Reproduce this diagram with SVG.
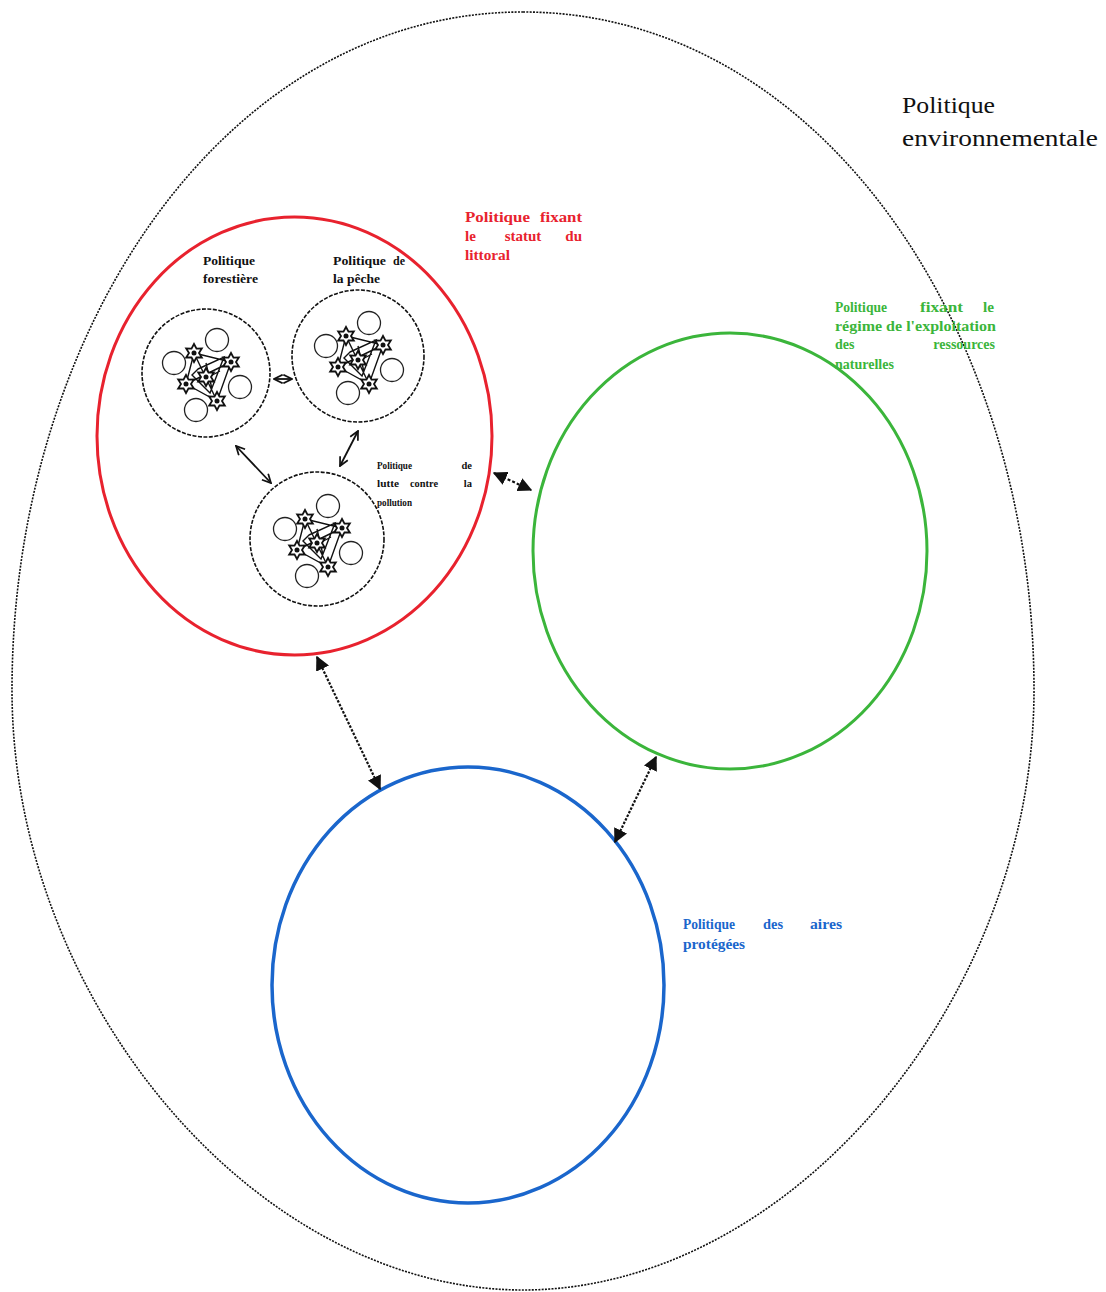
<svg xmlns="http://www.w3.org/2000/svg" width="1106" height="1292" viewBox="0 0 1106 1292">
<style>
.outer{fill:none;stroke:#111;stroke-width:1.6;stroke-dasharray:2 1.3}
.small{fill:#fff;stroke:#111;stroke-width:1.6;stroke-dasharray:4 1.5}
.dot{fill:#fff;stroke:#222;stroke-width:1.3}
.star{fill:#fff;stroke:#111;stroke-width:1.8}
.tangle{fill:none;stroke:#111;stroke-width:1.4}
.lbl{font-family:"Liberation Serif",serif;font-weight:bold}
.big{font-family:"Liberation Serif",serif;font-size:24px;fill:#111}
.sm{font-size:12px;fill:#111}
.xs{font-size:10.5px;fill:#111}
.red{font-size:15px;fill:#e8222e}
.grn{font-size:14px;fill:#3bb53b}
.blu{font-size:14px;fill:#1a66cc}
.conn{fill:none;stroke:#111}
</style>
<defs>
<marker id="ah" viewBox="0 0 10 10" refX="9" refY="5" markerWidth="6.5" markerHeight="6.5" orient="auto-start-reverse" markerUnits="strokeWidth">
<path d="M0 0 L10 5 L0 10 Z" fill="#111"/>
</marker>
<marker id="av" viewBox="0 0 10 10" refX="9" refY="5" markerWidth="6" markerHeight="6" orient="auto-start-reverse" markerUnits="strokeWidth">
<path d="M1 1 L9 5 L1 9" fill="none" stroke="#111" stroke-width="1.6"/>
</marker>
<g id="star"><polygon class="star" points="0,-9 2.5,-4.3 7.8,-4.5 5,0 7.8,4.5 2.5,4.3 0,9 -2.5,4.3 -7.8,4.5 -5,0 -7.8,-4.5 -2.5,-4.3"/><circle r="2.5" fill="#111"/></g>
<g id="cluster">
<path class="tangle" d="M-12 -20 L25 -11 L11 28 L-20 11 Z M-12 -20 L11 28 M25 -11 L-20 11 M-8 -4 L18 -16 L4 20 L-14 2 Z M-5 8 L14 -2 M0 -10 L6 16"/>
<circle class="dot" cx="11" cy="-33" r="11.5"/>
<circle class="dot" cx="-32" cy="-10" r="11.5"/>
<circle class="dot" cx="34" cy="14" r="11.5"/>
<circle class="dot" cx="-10" cy="37" r="11.5"/>
<use href="#star" x="-12" y="-20"/>
<use href="#star" x="25" y="-11"/>
<use href="#star" x="-20" y="11"/>
<use href="#star" x="11" y="28"/>
<use href="#star" x="0" y="4"/>
</g>
</defs>

<g id="env">
<path class="outer" d="M523 12 C820 12 1034 330 1034 690 C1034 1000 790 1290 523 1290 C256 1290 12 1000 12 690 C12 330 226 12 523 12 Z"/>
<text class="big"><tspan x="902" y="113" textLength="93" lengthAdjust="spacingAndGlyphs">Politique</tspan><tspan x="902" y="146" textLength="196" lengthAdjust="spacingAndGlyphs">environnementale</tspan></text>
</g>

<g id="littoral">
<ellipse cx="294.5" cy="436" rx="197.5" ry="219" fill="none" stroke="#e8222e" stroke-width="3"/>
<text class="lbl red"><tspan x="465" y="222" textLength="65" lengthAdjust="spacingAndGlyphs">Politique</tspan><tspan x="540" y="222" textLength="42" lengthAdjust="spacingAndGlyphs">fixant</tspan><tspan x="465" y="241">le</tspan><tspan x="523" y="241" text-anchor="middle">statut</tspan><tspan x="582" y="241" text-anchor="end">du</tspan><tspan x="465" y="260" textLength="45" lengthAdjust="spacingAndGlyphs">littoral</tspan></text>
</g>

<g id="foret">
<circle class="small" cx="206" cy="373" r="64"/>
<use href="#cluster" x="206" y="373"/>
<text class="lbl sm"><tspan x="203" y="265" textLength="52" lengthAdjust="spacingAndGlyphs">Politique</tspan><tspan x="203" y="283" textLength="55" lengthAdjust="spacingAndGlyphs">forestière</tspan></text>
</g>

<g id="peche">
<circle class="small" cx="358" cy="356" r="66"/>
<use href="#cluster" x="358" y="356"/>
<text class="lbl sm"><tspan x="333" y="265" textLength="53" lengthAdjust="spacingAndGlyphs">Politique</tspan><tspan x="393" y="265" textLength="12" lengthAdjust="spacingAndGlyphs">de</tspan><tspan x="333" y="283" textLength="47" lengthAdjust="spacingAndGlyphs">la pêche</tspan></text>
</g>

<g id="pollution">
<circle class="small" cx="317" cy="539" r="67"/>
<use href="#cluster" x="317" y="539"/>
<text class="lbl xs"><tspan x="377" y="469" textLength="35" lengthAdjust="spacingAndGlyphs">Politique</tspan><tspan x="472" y="469" text-anchor="end">de</tspan><tspan x="377" y="487" textLength="22" lengthAdjust="spacingAndGlyphs">lutte</tspan><tspan x="424" y="487" text-anchor="middle" textLength="28" lengthAdjust="spacingAndGlyphs">contre</tspan><tspan x="472" y="487" text-anchor="end">la</tspan><tspan x="377" y="506" textLength="35" lengthAdjust="spacingAndGlyphs">pollution</tspan></text>
</g>

<g id="ressources">
<ellipse cx="730" cy="551" rx="197" ry="218" fill="none" stroke="#3bb53b" stroke-width="3"/>
<text class="lbl grn"><tspan x="835" y="312" textLength="52" lengthAdjust="spacingAndGlyphs">Politique</tspan><tspan x="920" y="312" textLength="43" lengthAdjust="spacingAndGlyphs">fixant</tspan><tspan x="983" y="312" textLength="11" lengthAdjust="spacingAndGlyphs">le</tspan><tspan x="835" y="331" textLength="161" lengthAdjust="spacingAndGlyphs">régime de l'exploitation</tspan><tspan x="835" y="349">des</tspan><tspan x="995" y="349" text-anchor="end">ressources</tspan><tspan x="835" y="369">naturelles</tspan></text>
</g>

<g id="aires">
<ellipse cx="468" cy="985" rx="196" ry="218" fill="none" stroke="#1a66cc" stroke-width="3.5"/>
<text class="lbl blu"><tspan x="683" y="929" textLength="52" lengthAdjust="spacingAndGlyphs">Politique</tspan><tspan x="763" y="929" textLength="20" lengthAdjust="spacingAndGlyphs">des</tspan><tspan x="810" y="929" textLength="32" lengthAdjust="spacingAndGlyphs">aires</tspan><tspan x="683" y="949" textLength="62" lengthAdjust="spacingAndGlyphs">protégées</tspan></text>
</g>

<g id="connectors">
<line class="conn" x1="274" y1="379" x2="292" y2="379" stroke-width="1.8" marker-start="url(#av)" marker-end="url(#av)"/>
<line class="conn" x1="236" y1="446" x2="271" y2="483" stroke-width="1.8" marker-start="url(#av)" marker-end="url(#av)"/>
<line class="conn" x1="358" y1="431" x2="340" y2="466" stroke-width="1.8" marker-start="url(#av)" marker-end="url(#av)"/>
<line class="conn" x1="494" y1="473" x2="531" y2="490" stroke-width="2.2" stroke-dasharray="3 2" marker-start="url(#ah)" marker-end="url(#ah)"/>
<line class="conn" x1="317" y1="657" x2="380" y2="789" stroke-width="2.2" stroke-dasharray="2.5 1.5" marker-start="url(#ah)" marker-end="url(#ah)"/>
<line class="conn" x1="656" y1="757" x2="615" y2="842" stroke-width="2.2" stroke-dasharray="2.5 1.5" marker-start="url(#ah)" marker-end="url(#ah)"/>
</g>
</svg>
